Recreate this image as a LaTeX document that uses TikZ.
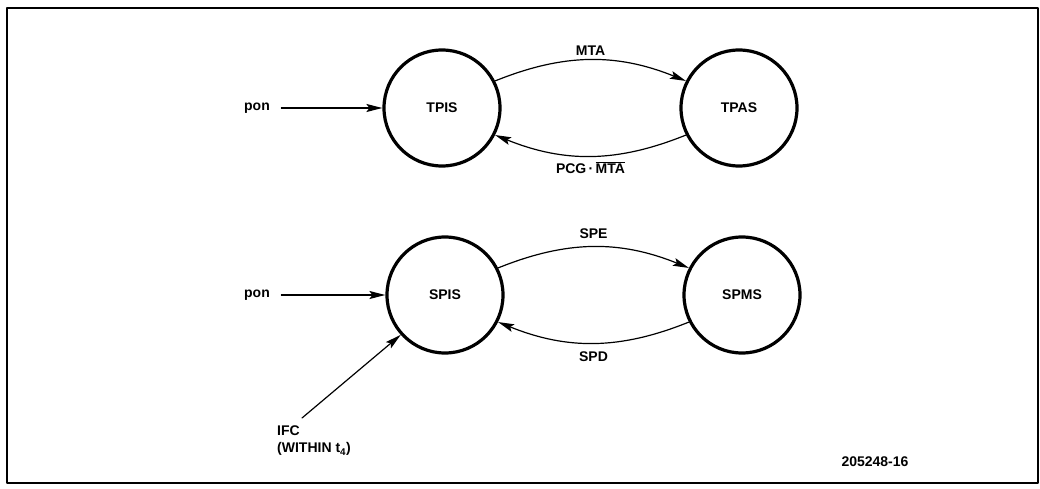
\documentclass[tikz,border=0pt]{standalone}
\usepackage{fontspec}
\setmainfont{Liberation Sans}
\usetikzlibrary{arrows.meta}
\tikzset{
	state/.style={circle, draw, line width=3.2pt, minimum size=116pt, inner sep=0pt},
	trans/.style={line width=1.2pt}
}
\begin{document}
\begin{tikzpicture}[x=1pt,y=1pt,>={Stealth[length=16pt,width=8pt,inset=3pt]}, font=\fontsize{14}{17}\selectfont\bfseries, line join=round, line cap=round]
	%Khung
	\useasboundingbox (0,0) rectangle (1040,488);
	\draw[line width=1.6pt] (7,5) rectangle (1038,480);
	%Các trạng thái
	\node[state] (TPIS) at (442,380) {TPIS};
	\node[state] (TPAS) at (739,380) {TPAS};
	\node[state] (SPIS) at (445,193) {SPIS};
	\node[state] (SPMS) at (742,193) {SPMS};
	%Các đầu vào
	\node (pon1) at (257,380) {pon};
	\node (pon2) at (257,193) {pon};
	\node[align=left, anchor=north west, inner sep=0pt] (ifc) at (277,62) {IFC\\(WITHIN t\textsubscript{4})};
	\coordinate (ifcstart) at (302,70);
	\draw[trans,->,shorten <=8pt] (pon1) -- (TPIS);
	\draw[trans,->,shorten <=8pt] (pon2) -- (SPIS);
	\draw[trans,->] (ifcstart) -- (SPIS.222);
	%Các chuyển trạng thái
	\draw[trans,->] (TPIS.27) to[bend left=22] node[midway, above=1pt] (mta) {MTA} (TPAS.153);
	\draw[trans,->] (TPAS.207) to[bend left=22] node[midway, below=2pt] (pcg) {PCG\,·\,$\overline{\mbox{MTA}}$} (TPIS.333);
	\draw[trans,->] (SPIS.27) to[bend left=22] node[midway, above=4pt] (spe) {SPE} (SPMS.153);
	\draw[trans,->] (SPMS.207) to[bend left=22] node[midway, below=5pt] (spd) {SPD} (SPIS.333);
	%Mã hình
	\node (code) at (875,26) {205248-16};
\end{tikzpicture}
\end{document}
